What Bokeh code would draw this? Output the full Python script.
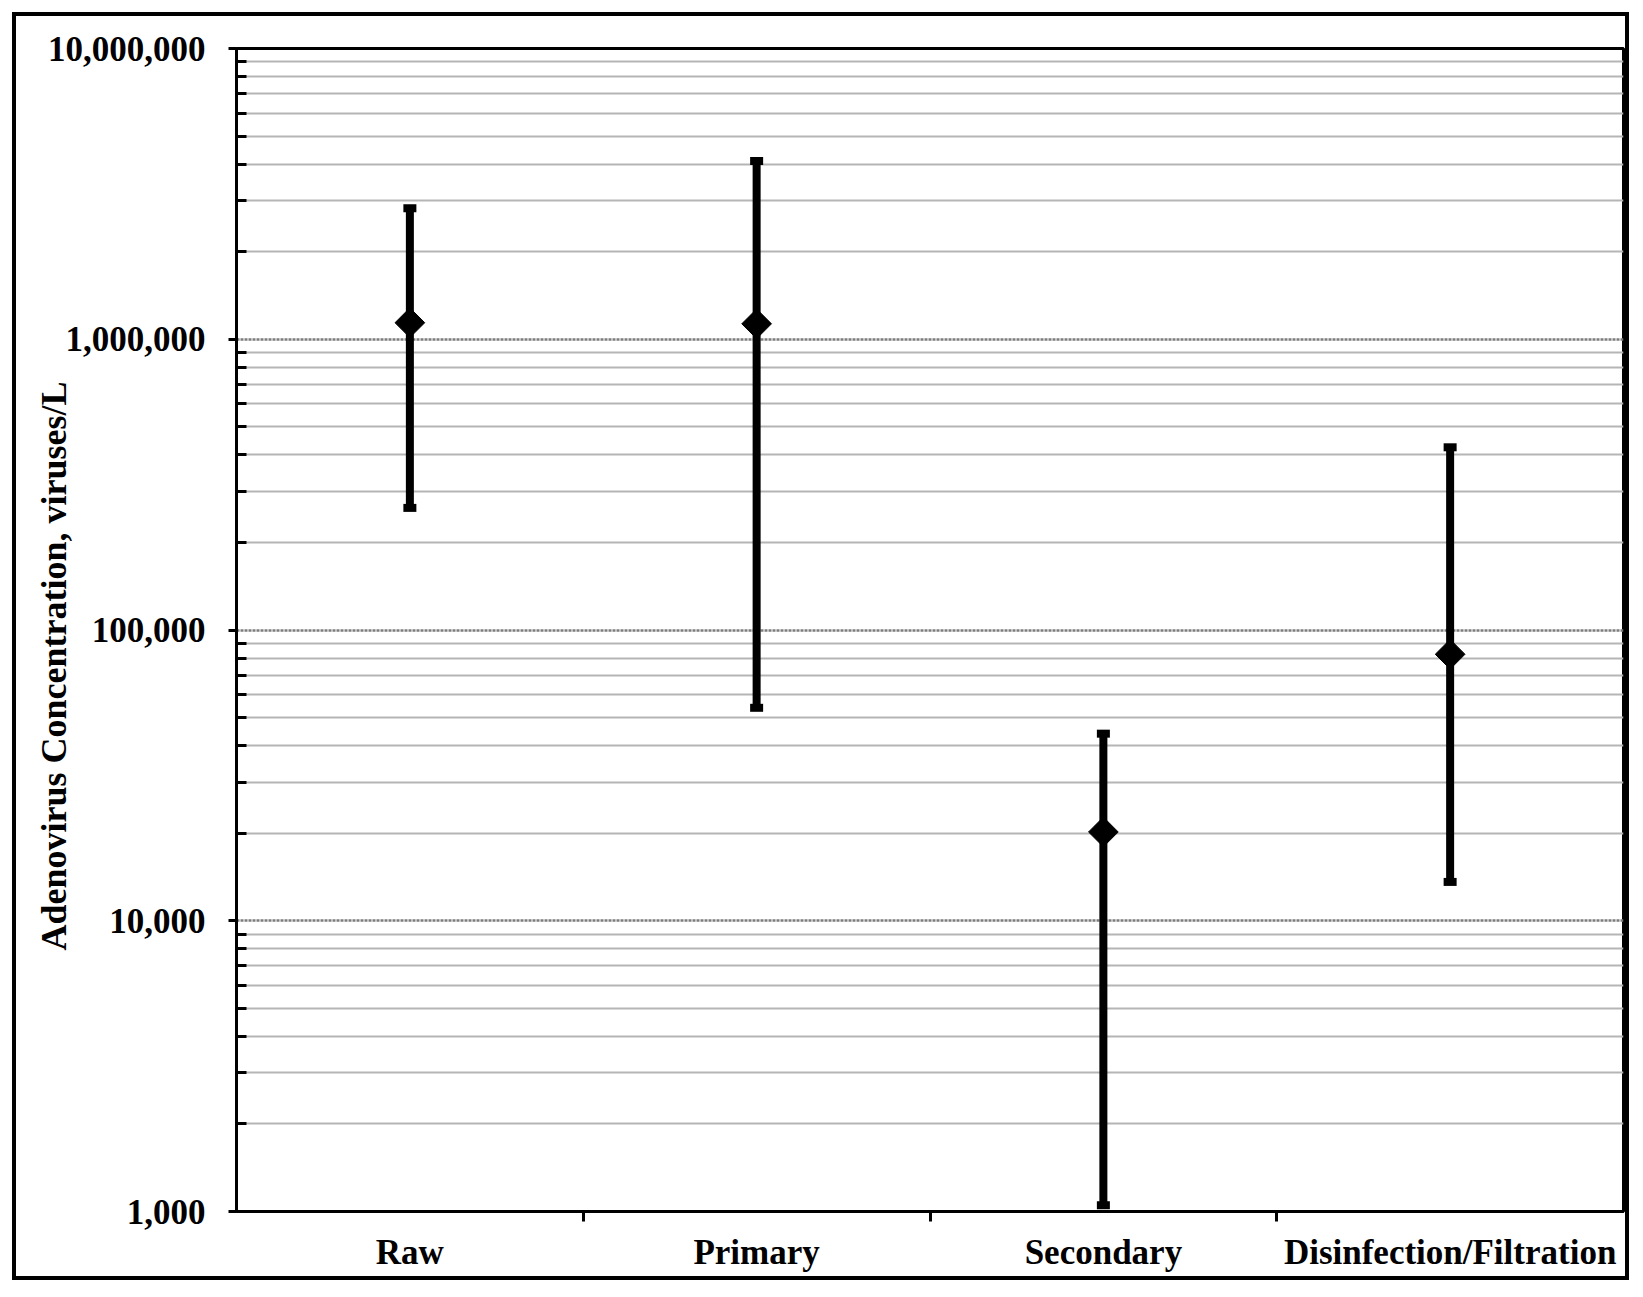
import numpy as np
from bokeh.plotting import figure
from bokeh.models import FixedTicker, Range1d
from bokeh.embed import file_html
from bokeh.resources import INLINE

# ---- data ----
categories = ["Raw", "Primary", "Secondary", "Disinfection/Filtration"]
means = [1.14e6, 1.13e6, 2.02e4, 8.25e4]
lows = [2.63e5, 5.4e4, 1.05e3, 1.36e4]
highs = [2.82e6, 4.1e6, 4.4e4, 4.25e5]
y_major_ticks = [1e3, 1e4, 1e5, 1e6, 1e7]
y_tick_labels = ["1,000", "10,000", "100,000", "1,000,000", "10,000,000"]
y_title = "Adenovirus Concentration, viruses/L"

FONT = "Liberation Serif"
W, H = 1617, 1268

xs = [i + 0.5 for i in range(len(categories))]
x_bounds = list(range(1, len(categories)))
y_minor = [m * 10.0 ** e for e in range(3, 7) for m in range(2, 10)]

p = figure(width=W, height=H,
           x_range=Range1d(0, len(categories)),
           y_range=Range1d(1e3, 1e7), y_axis_type="log",
           output_backend="svg", toolbar_location=None,
           min_border_left=224, min_border_top=36,
           min_border_right=6, min_border_bottom=69)
# outer chart border drawn around the whole figure
p.styles = {"position": "absolute", "left": "12px", "top": "12px",
            "outline": "4px solid black", "outline-offset": "-4px"}
p.background_fill_color = "white"
p.border_fill_color = None
p.outline_line_color = "black"
p.outline_line_width = 3

# y axis
ya = p.yaxis[0]
ya.ticker = FixedTicker(ticks=y_major_ticks, minor_ticks=y_minor)
ya.major_label_overrides = {t: l for t, l in zip(y_major_ticks, y_tick_labels)}
ya.axis_line_color = "black"
ya.axis_line_width = 3
ya.major_tick_out = 8
ya.major_tick_in = 0
ya.major_tick_line_width = 3
ya.minor_tick_in = 10
ya.minor_tick_out = 0
ya.minor_tick_line_width = 3
ya.major_label_standoff = 23
ya.major_label_text_font = FONT
ya.major_label_text_font_style = "bold"
ya.major_label_text_font_size = "35px"
ya.major_label_text_color = "black"
# trailing no-break spaces shift the centred title down to where the reference has it
ya.axis_label = y_title + "\u00a0" * 8
ya.axis_label_text_font = FONT
ya.axis_label_text_font_style = "bold"
ya.axis_label_text_font_size = "36px"
ya.axis_label_text_color = "black"
ya.axis_label_standoff = -29

# x axis
xa = p.xaxis[0]
xa.ticker = FixedTicker(ticks=xs, minor_ticks=x_bounds)
xa.major_label_overrides = {x: c for x, c in zip(xs, categories)}
xa.axis_line_color = "black"
xa.axis_line_width = 3
xa.major_tick_out = 0
xa.major_tick_in = 0
xa.major_tick_line_color = None
xa.minor_tick_out = 10
xa.minor_tick_in = 0
xa.minor_tick_line_width = 3
xa.minor_tick_line_color = "black"
xa.major_label_standoff = 11
xa.major_label_text_font = FONT
xa.major_label_text_font_style = "bold"
xa.major_label_text_font_size = "35px"
xa.major_label_text_color = "black"

# grids
p.xgrid.visible = False
p.ygrid.grid_line_color = "#7c7c7c"
p.ygrid.grid_line_width = 2.5
p.ygrid.grid_line_dash = "3 1"
p.ygrid.minor_grid_line_color = "#b5b5b5"
p.ygrid.minor_grid_line_width = 2

# error bars
p.segment(x0=xs, y0=lows, x1=xs, y1=highs, line_color="black", line_width=8)
p.rect(x=xs, y=highs, width=13, height=8, width_units="screen", height_units="screen",
       fill_color="black", line_color=None)
p.rect(x=xs, y=lows, width=13, height=8, width_units="screen", height_units="screen",
       fill_color="black", line_color=None)
p.scatter(x=xs, y=means, marker="square", angle=np.pi / 4, size=21,
          fill_color="black", line_color="black")

open("out.html", "w").write(file_html(p, INLINE))
